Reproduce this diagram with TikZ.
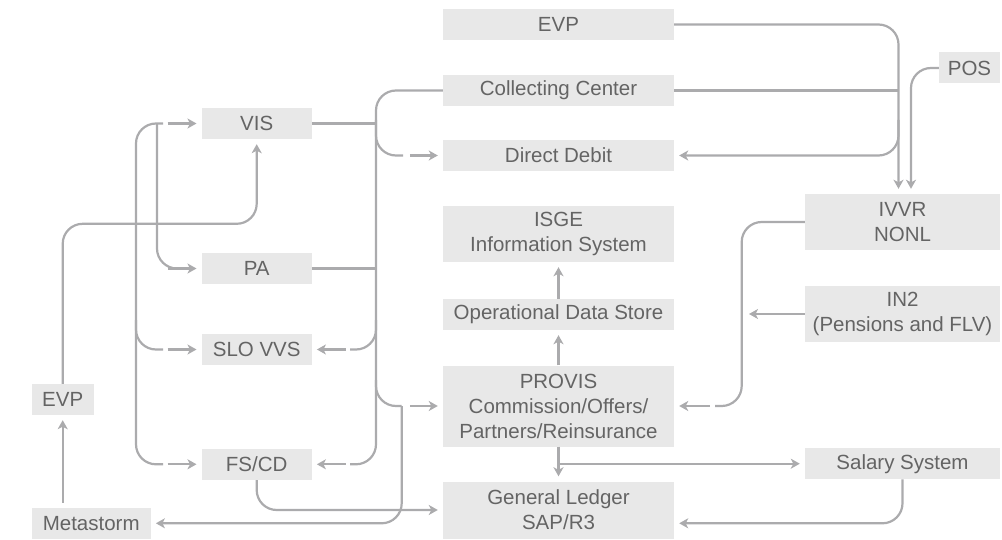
\documentclass[tikz,border=0pt]{standalone}
\usepackage{fontspec}
\setmainfont{Liberation Sans}
\usetikzlibrary{arrows.meta}
\definecolor{boxgray}{HTML}{E8E8E8}
\definecolor{linegray}{HTML}{ABABAD}
\definecolor{textgray}{HTML}{646464}
\tikzstyle{sysbox}=[fill=boxgray, text=textgray, align=center, inner sep=0pt,
  minimum height=31pt, font=\fontsize{20.5}{25}\selectfont]
\tikzstyle{mid}=[minimum width=231pt]
\tikzstyle{rgt}=[minimum width=195pt]
\tikzstyle{lft}=[minimum width=110pt]
\tikzstyle{conn}=[draw=linegray, line width=2.2pt, rounded corners=20pt]
\tikzstyle{arr}=[conn, -{Stealth[length=9pt,width=10pt,inset=2.5pt]}, shorten >=5pt]
\newcommand{\sysbox}[1]{\node[sysbox,#1]}

\begin{document}
\begin{tikzpicture}[x=1pt, y=-1pt]
\useasboundingbox (0,0) rectangle (1002,540);
% middle column
\sysbox{mid} (evpT) at (558.5,24.5) {EVP};
\sysbox{mid} (cc) at (558.5,90.5) {Collecting Center};
\sysbox{mid} (dd) at (558.5,155.5) {Direct Debit};
\sysbox{mid,minimum height=56pt} (isge) at (558.5,234) {ISGE\\Information System};
\sysbox{mid} (ods) at (558.5,314.5) {Operational Data Store};
\sysbox{mid,minimum height=81pt} (provis) at (558.5,406) {PROVIS\\Commission/Offers/\\Partners/Reinsurance};
\sysbox{mid,minimum height=57pt} (gl) at (558.5,510) {General Ledger\\SAP/R3};
% right column
\sysbox{minimum width=61pt} (pos) at (969.5,68) {POS};
\sysbox{rgt,minimum height=56pt} (ivvr) at (902.5,222) {IVVR\\NONL};
\sysbox{rgt,minimum height=56pt} (in2) at (902.5,314) {IN2\\(Pensions and FLV)};
\sysbox{rgt} (salary) at (902.5,463.7) {Salary System};
% left column
\sysbox{lft} (vis) at (256.7,123.5) {VIS};
\sysbox{lft} (pa) at (256.7,268.5) {PA};
\sysbox{lft} (slo) at (256.7,349.5) {SLO VVS};
\sysbox{lft} (fscd) at (256.7,464.3) {FS/CD};
\sysbox{minimum width=62pt} (evpL) at (62.7,399.5) {EVP};
\sysbox{minimum width=119pt} (meta) at (91.2,523.3) {Metastorm};

% left feeds
\draw[conn] (163,123.5) -- (136,123.5) -- (136,464.3) -- (163,464.3);
\draw[conn] (136,320) |- (163,349.5);
\draw[conn] (157,123.5) -- (157,268.5) -- (185,268.5);
\draw[arr] ([xshift=-34pt]vis.west) -- (vis.west);
\draw[arr] ([xshift=-34pt]pa.west) -- (pa.west);
\draw[arr] ([xshift=-34pt]slo.west) -- (slo.west);
\draw[arr] ([xshift=-34pt]fscd.west) -- (fscd.west);
\draw[arr] (evpL.north) |- ([yshift=-84.6pt]vis.south) -- (vis.south);
\draw[arr, shorten <=5pt] (meta.north -| evpL.south) -- (evpL.south);

% bus between left and middle
\draw[conn] (vis.east) -- (376,123.5);
\draw[conn] (pa.east) -- (376,268.5);
\draw[conn] (cc.west) -- (376,90.5) -- (376,464.3) -- (350,464.3);
\draw[conn] (376,120) |- (403,155.5);
\draw[conn] (376,320) |- (350,349.5);
\draw[conn] (376,380) |- (401.7,406);
\draw[arr] (401.7,406) |- (meta.east);
\draw[arr] ([xshift=-33pt]dd.west) -- (dd.west);
\draw[arr] ([xshift=-33pt]provis.west) -- (provis.west);
\draw[arr] ([xshift=34pt]slo.east) -- (slo.east);
\draw[arr] ([xshift=34pt]fscd.east) -- (fscd.east);
\draw[arr] (fscd.south) |- (gl.west);

% middle column
\draw[arr] (provis.north) -- (ods.south);
\draw[arr] (ods.north) -- (isge.south);
\draw[arr] (provis.south) -- (gl.north);
\draw[arr] (provis.south |- salary.west) -- (salary.west);
\draw[arr] (salary.south) |- ([yshift=-13.3pt]gl.east);

% right side
\draw[arr] (evpT.east) -| ([xshift=-4pt]ivvr.north);
\draw[conn] (cc.east) -- (898.5,90.5);
\draw[arr] (898.5,120) |- (dd.east);
\draw[arr] (pos.west) -| ([xshift=8.5pt]ivvr.north);
\draw[conn] (ivvr.west) -| (741.7,406) -- (715,406);
\draw[arr] ([xshift=36pt]provis.east) -- (provis.east);
\draw[arr, shorten >=0pt] (in2.west) -- (749,314);
\end{tikzpicture}
\end{document}
